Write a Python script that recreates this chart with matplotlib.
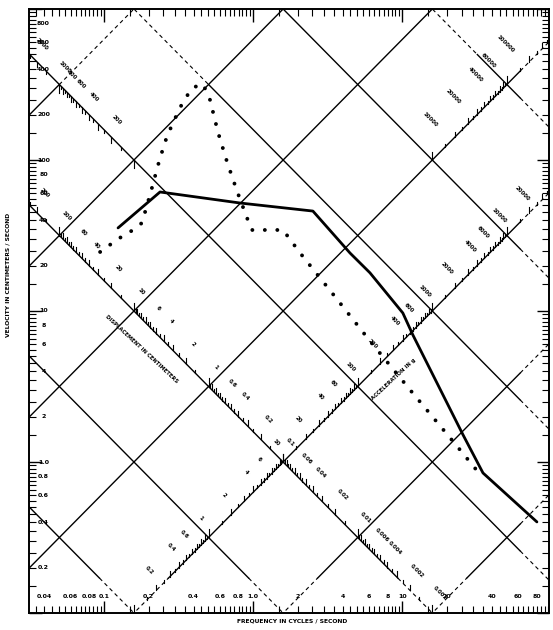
import numpy as np
import matplotlib
matplotlib.use('Agg')
import matplotlib.pyplot as plt
from matplotlib.transforms import blended_transform_factory

# ---------------- data ----------------
solid_freq = [0.1245, 0.238, 0.818, 2.52, 4.47, 6.08, 10.1, 11.8, 25.6, 34.8, 80.0]
solid_vel = [35.5, 61.4, 51.9, 45.9, 24.2, 17.9, 9.70, 6.93, 1.51, 0.846, 0.401]

dotted_freq = [0.0944, 0.1245, 0.157, 0.180, 0.195, 0.210, 0.231, 0.257, 0.286, 0.334,
               0.390, 0.462, 0.515, 0.582, 0.670, 0.781, 0.912, 0.985, 1.59, 2.07,
               3.38, 6.08, 11.6, 22.9, 34.8]
dotted_vel = [24.6, 30.0, 34.4, 38.3, 50.4, 65.3, 92.7, 131.6, 170.5, 235,
              300, 319, 250, 153, 97, 62.3, 41.3, 34.4, 34.4, 24.2,
              13.2, 6.33, 2.91, 1.30, 0.784]

freq_ticklabels = ['0.04', '0.06', '0.08', '0.1', '0.2', '0.4', '0.6', '0.8', '1.0',
                   '2', '4', '6', '8', '10', '20', '40', '60', '80']
vel_ticklabels = ['0.2', '0.4', '0.6', '0.8', '1.0', '2', '4', '6', '8', '10',
                  '20', '40', '60', '80', '100', '200', '400', '600', '800']

disp_lines = [1e-3, 1e-2, 1e-1, 1.0, 10.0, 100.0, 1000.0]          # cm
acc_lines = [0.1, 1.0, 10.0, 100.0, 1000.0, 1e4, 1e5]              # cm/s^2

disp_scale_labels_upper = ['200', '400', '600', '800', '1000', '2000']
disp_scale_labels_lower = ['0.001', '0.002', '0.004', '0.006', '0.01', '0.02', '0.04',
                           '0.06', '0.1', '0.2', '0.4', '0.6', '1', '2', '4', '6',
                           '10', '20', '40', '60', '100', '200']
acc_scale_labels_lower = ['0.2', '0.4', '0.6', '1', '2', '4', '6', '10', '20', '40',
                          '60', '100', '200', '400', '600', '1000', '2000', '4000',
                          '6000', '10000', '20000']
acc_scale_labels_upper = ['10000', '20000', '40000', '60000', '100000']

TWO_PI = 2 * np.pi

# ---------------- figure ----------------
fig = plt.figure(figsize=(5.53, 6.30), dpi=100)
ax = fig.add_axes([29 / 553, 17 / 630, 520 / 553, 604 / 630])
ax.set_xscale('log')
ax.set_yscale('log')
ax.set_xlim(0.0315, 96.4)
ax.set_ylim(0.1, 1000)
for s in ax.spines.values():
    s.set_linewidth(1.4)
ax.tick_params(which='major', direction='in', length=9, width=1.0, top=True, right=True,
               labelbottom=False, labelleft=False)
ax.tick_params(which='minor', direction='in', length=5, width=0.8, top=True, right=True,
               labelbottom=False, labelleft=False)
ax.xaxis.set_minor_locator(matplotlib.ticker.LogLocator(base=10, subs=np.arange(1, 10, 0.5)))
ax.yaxis.set_minor_locator(matplotlib.ticker.LogLocator(base=10, subs=np.arange(1, 10, 0.5)))
ax.xaxis.set_minor_formatter(matplotlib.ticker.NullFormatter())
ax.yaxis.set_minor_formatter(matplotlib.ticker.NullFormatter())

xmin, xmax = ax.get_xlim()
ymin, ymax = ax.get_ylim()

# grid of constant displacement / acceleration; faint (dashed) near the borders
fr = np.logspace(-3, 3, 3000)


def draw_grid_line(v, faint):
    solid = np.where(faint, np.nan, v)
    # extend faint mask by one sample so pieces join
    fm = faint | np.roll(faint, 1) | np.roll(faint, -1)
    dashed = np.where(fm, v, np.nan)
    ax.plot(fr, solid, color='black', lw=1.0)
    ax.plot(fr, dashed, color='black', lw=0.8, linestyle=(0, (3.5, 3)))


for D in disp_lines:
    v = TWO_PI * fr * D
    acc = TWO_PI * fr * v
    faint = (v < 0.17) | (fr > 62) | ((D > 100) & (acc > 100))
    draw_grid_line(v, faint)
for A in acc_lines:
    v = A / (TWO_PI * fr)
    disp = v / (TWO_PI * fr)
    faint = (v < 0.17) | (fr > 62) | ((A > 100) & (disp > 100)) | ((A > 1e4) & (v > 500))
    draw_grid_line(v, faint)

subs = np.arange(1, 10, 0.5)


def inside(f, v):
    return xmin <= f <= xmax and ymin <= v <= ymax


def disp_ticks(A, dlo, dhi, down=True):
    for e in range(-4, 5):
        for s in subs:
            D = s * 10.0 ** e
            if D < dlo or D > dhi:
                continue
            f = np.sqrt(A / D) / TWO_PI
            v = np.sqrt(A * D)
            if not inside(f, v):
                continue
            L = 1.13 if s == 1 else (1.09 if float(s).is_integer() else 1.05)
            v2 = v / L if down else v * L
            ax.plot([f, f], [v, v2], color='black', lw=0.8)


def acc_ticks(D, alo, ahi, up=True):
    for e in range(-2, 7):
        for s in subs:
            A = s * 10.0 ** e
            if A < alo or A > ahi:
                continue
            f = np.sqrt(A / D) / TWO_PI
            v = np.sqrt(A * D)
            if not inside(f, v):
                continue
            L = 1.13 if s == 1 else (1.09 if float(s).is_integer() else 1.05)
            v2 = v * L if up else v / L
            ax.plot([f, f], [v, v2], color='black', lw=0.8)


disp_ticks(100.0, 100.0, 1e4, down=True)
disp_ticks(10.0, 1e-5, 1e4, down=False)
acc_ticks(0.1, 1e-3, 1e7, up=True)
acc_ticks(1.0, 1e4, 1e7, up=True)

for t in disp_scale_labels_upper:
    D = float(t)
    A = 100.0
    f = np.sqrt(A / D) / TWO_PI * 1.08
    v = np.sqrt(A * D) * 1.3
    if inside(f, v):
        ax.text(f, v, t, fontsize=4, fontweight='bold', rotation=-45,
                ha='center', va='center')
for t in disp_scale_labels_lower:
    D = float(t)
    A = 10.0
    f = np.sqrt(A / D) / TWO_PI * 1.12
    v = np.sqrt(A * D) * 1.35
    if inside(f, v) and v > 0.13:
        ax.text(f, v, t, fontsize=4, fontweight='bold', rotation=-45,
                ha='center', va='center')
for t in acc_scale_labels_lower:
    A = float(t)
    D = 0.1
    f = np.sqrt(A / D) / TWO_PI / 1.12
    v = np.sqrt(A * D) * 1.35
    if inside(f, v) and v > 0.13:
        ax.text(f, v, t, fontsize=4, fontweight='bold', rotation=-45,
                ha='center', va='center')
for t in acc_scale_labels_upper:
    A = float(t)
    D = 1.0
    f = np.sqrt(A / D) / TWO_PI / 1.03
    v = np.sqrt(A * D) * 1.85
    if inside(f, v):
        ax.text(f, v, t, fontsize=4, fontweight='bold', rotation=-45,
                ha='center', va='center')

ax.text(np.sqrt(10.0 / 8.0) / TWO_PI, np.sqrt(10.0 * 8.0) / 1.6,
        'DISPLACEMENT IN CENTIMETERS', fontsize=3.8, fontweight='bold',
        rotation=-43, ha='center', va='center')
ax.text(np.sqrt(300.0 / 0.1) / TWO_PI, np.sqrt(300.0 * 0.1) / 1.55,
        'ACCELERATION IN g', fontsize=3.8, fontweight='bold',
        rotation=43, ha='center', va='center')

ax.plot(solid_freq, solid_vel, color='black', lw=2.0, solid_capstyle='round')
ax.plot(dotted_freq, dotted_vel, color='black', lw=2.8, linestyle=(0, (0.01, 3.2)),
        dash_capstyle='round')

tb = blended_transform_factory(ax.transData, ax.transAxes)
for t in freq_ticklabels:
    ax.text(float(t), 0.027, t, transform=tb, fontsize=4.5, fontweight='bold',
            ha='center', va='center')
tl = blended_transform_factory(ax.transAxes, ax.transData)
for t in vel_ticklabels:
    ax.text(0.028, float(t), t, transform=tl, fontsize=4.5, fontweight='bold',
            ha='center', va='center')

fig.text(8 / 553, 1 - 275 / 630, 'VELOCITY IN CENTIMETERS / SECOND', rotation=90,
         fontsize=4.3, fontweight='bold', ha='center', va='center')
fig.text(292 / 553, 1 - 621 / 630, 'FREQUENCY IN CYCLES / SECOND',
         fontsize=4.3, fontweight='bold', ha='center', va='center')

fig.savefig('out.png', dpi=100)
